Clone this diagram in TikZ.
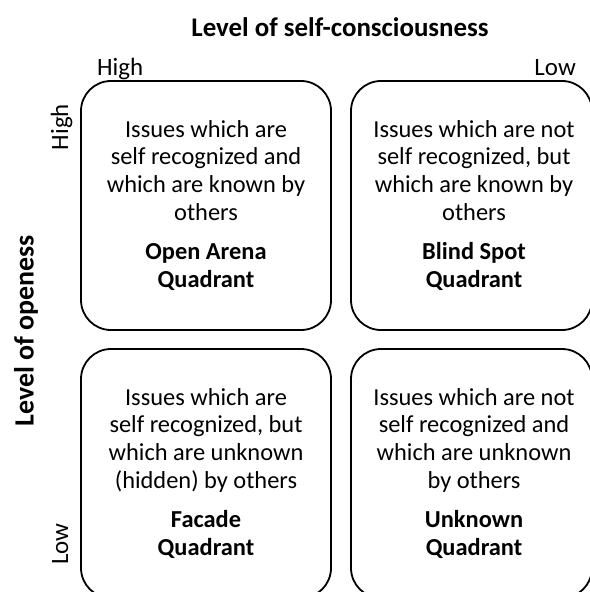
\documentclass[tikz,border=0pt]{standalone}
\usepackage{fontspec}
\setmainfont{Carlito}
\begin{document}
\begin{tikzpicture}[x=1bp,y=-1bp,
  quad/.style={draw=black, line width=1.8bp, rounded corners=30bp},
  body/.style={align=center, inner sep=0pt, anchor=base, font=\fontsize{24.5}{27.7}\selectfont},
  bodybold/.style={body, font=\fontsize{24.5}{27.7}\selectfont\bfseries},
  axis/.style={inner sep=0pt, font=\fontsize{25}{30}\selectfont},
  axistitle/.style={inner sep=0pt, font=\fontsize{27}{32}\selectfont\bfseries}]
\useasboundingbox (0,0) rectangle (590,592);
\clip (0,0) rectangle (590,592);

% four quadrants
\draw[quad] (81,81) rectangle (331,330);
\draw[quad] (351,81) rectangle (592,330);
\draw[quad] (81,349) rectangle (331,598);
\draw[quad] (351,349) rectangle (592,598);

% axis titles and ends
\node[axistitle] (top) at (340,27) {Level of self-consciousness};
\node[axistitle, rotate=90, font=\fontsize{28}{32}\selectfont\bfseries] (left) at (26,331) {Level of openess};
\node[axis, anchor=base west] (hh) at (97,76) {High};
\node[axis, anchor=base east] (hl) at (576,76) {Low};
\node[axis, rotate=90, anchor=base] (vh) at (68,127) {High};
\node[axis, rotate=90, anchor=base] (vl) at (68,544) {Low};

% quadrant texts (anchored at the baseline of their last line)
\node[body] (q1) at (206,220) {Issues which are\\self recognized and\\which are known by\\others};
\node[bodybold] (q1t) at (206,287) {Open Arena\\Quadrant};

\node[body] (q2) at (474,220) {Issues which are not\\self recognized, but\\which are known by\\others};
\node[bodybold] (q2t) at (474,287) {Blind Spot\\Quadrant};

\node[body] (q3) at (206,488) {Issues which are\\self recognized, but\\which are unknown\\(hidden) by others};
\node[bodybold] (q3t) at (206,555) {Facade\\Quadrant};

\node[body] (q4) at (474,488) {Issues which are not\\self recognized and\\which are unknown\\by others};
\node[bodybold] (q4t) at (474,555) {Unknown\\Quadrant};
\end{tikzpicture}
\end{document}
